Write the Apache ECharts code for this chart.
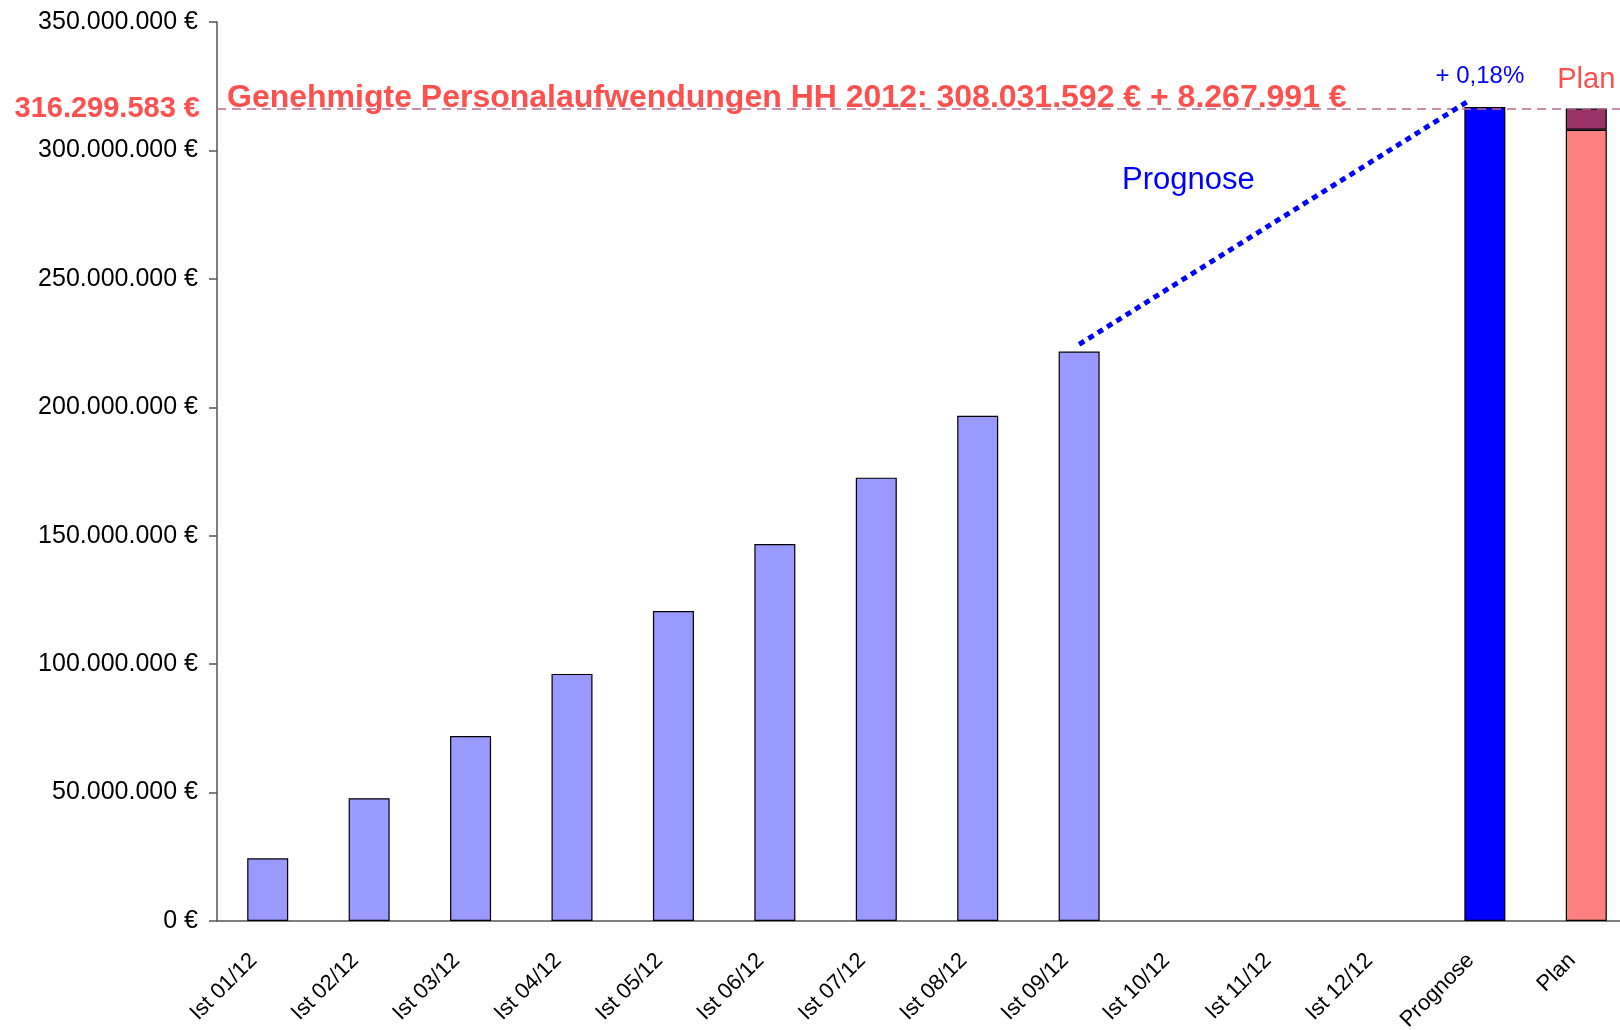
<!DOCTYPE html>
<html>
<head>
<meta charset="utf-8">
<title>Personalaufwendungen 2012</title>
<script src="https://cdn.jsdelivr.net/npm/echarts@6/dist/echarts.min.js"></script>
<style>
    html, body { margin: 0; padding: 0; background: #fff; }
    #main { width: 1620px; height: 1030px; }
</style>
</head>
<body>
<div id="main"></div>
<script>
// Kategorien der x-Achse
var categories = ['Ist 01/12', 'Ist 02/12', 'Ist 03/12', 'Ist 04/12', 'Ist 05/12', 'Ist 06/12',
    'Ist 07/12', 'Ist 08/12', 'Ist 09/12', 'Ist 10/12', 'Ist 11/12', 'Ist 12/12', 'Prognose', 'Plan'];

// kumulierte Ist-Werte (Jan - Sep)
var istValues = [24400000, 47800000, 72000000, 96200000, 120700000, 146800000, 172600000, 196700000, 221700000];

// Prognose / Plan
var prognoseValue = 316870000;
var planBase = 308031592;
var planExtra = 8267991;

// y-Achse
var yMin = 0, yMax = 350000000, yStep = 50000000;

// Verbindungslinie Ist 09/12 -> Prognose (x in Kategorie-Index)
var trendX = [8, 11.82];
var trendY = [224500000, 318800000];

var red = '#ff5050';

function fmt(v) {
    return String(Math.round(v)).replace(/\B(?=(\d{3})+(?!\d))/g, '.') + ' €';
}

var planTotal = planBase + planExtra;

function slot(idx, val) {
    var arr = categories.map(function(){ return '-'; });
    arr[idx] = val;
    return arr;
}

var istData = categories.map(function(c, i){ return i < istValues.length ? istValues[i] : '-'; });
var progIdx = categories.indexOf('Prognose');
var planIdx = categories.indexOf('Plan');

var chart = echarts.init(document.getElementById('main'));

chart.setOption({
    animation: false,
    textStyle: { fontFamily: 'Liberation Sans, Arial, sans-serif' },
    // rechter Rand liegt ausserhalb des Bildes (wie im Original abgeschnitten)
    grid: { left: 217, top: 22, right: -17, bottom: 109, containLabel: false, outerBoundsMode: 'none' },
    xAxis: [{
        type: 'category',
        data: categories,
        boundaryGap: true,
        axisLine: { lineStyle: { color: '#555', width: 1.5 } },
        axisTick: { length: 11, lineStyle: { color: '#555', width: 1.5 } },
        axisLabel: { rotate: 45, fontSize: 22, color: '#000', margin: 22, interval: 0, padding: [0, 20, 0, 0] }
    }, {
        // unsichtbare Wertachse für die Prognose-Linie
        type: 'value', min: -0.5, max: categories.length - 0.5, show: false
    }],
    yAxis: {
        type: 'value',
        min: yMin, max: yMax, interval: yStep,
        splitLine: { show: false },
        axisLine: { show: true, onZero: false, lineStyle: { color: '#555', width: 1.5 } },
        axisTick: { show: true, length: 8, lineStyle: { color: '#555', width: 1.5 } },
        axisLabel: { fontSize: 25, color: '#000', margin: 19, formatter: fmt }
    },
    series: [{
        name: 'Ist',
        type: 'bar',
        stack: 'all',
        barWidth: 41,
        data: istData,
        itemStyle: { color: '#9999ff', borderColor: '#000', borderWidth: 1.2 },
        markLine: {
            silent: true,
            symbol: 'none',
            data: [{
                yAxis: planTotal,
                lineStyle: { color: '#bb6a90', type: [9, 6], width: 1.5 },
                label: {
                    position: 'start', distance: 17, formatter: fmt(planTotal),
                    color: red, fontSize: 29, fontWeight: 'bold'
                }
            }, {
                yAxis: planTotal,
                lineStyle: { color: 'rgba(0,0,0,0)', width: 0 },
                label: {
                    position: 'insideStartTop', distance: [10, -6],
                    formatter: 'Genehmigte Personalaufwendungen HH 2012: ' + fmt(planBase) + ' + ' + fmt(planExtra),
                    color: red, fontSize: 32, fontWeight: 'bold'
                }
            }]
        }
    }, {
        name: 'Prognose',
        type: 'bar',
        stack: 'all',
        barWidth: 41,
        data: slot(progIdx, prognoseValue),
        itemStyle: { color: '#0000ff', borderColor: '#000', borderWidth: 1.2 },
        label: {
            show: true, position: 'top', distance: 19, offset: [-5, 0], color: '#0000ff', fontSize: 24,
            formatter: function(){
                return '+ ' + ((prognoseValue / planTotal - 1) * 100).toFixed(2).replace('.', ',') + '%';
            }
        }
    }, {
        name: 'Plan',
        type: 'bar',
        stack: 'all',
        barWidth: 41,
        data: slot(planIdx, planBase),
        itemStyle: { color: '#ff8080', borderColor: '#000', borderWidth: 1.2 }
    }, {
        name: 'Plan Zusatz',
        type: 'bar',
        stack: 'all',
        barWidth: 41,
        data: slot(planIdx, planExtra),
        itemStyle: { color: '#993366', borderColor: '#000', borderWidth: 1.2 },
        label: { show: true, position: 'top', distance: 14, color: red, fontSize: 29, formatter: 'Plan' }
    }, {
        name: 'Trend',
        type: 'line',
        xAxisIndex: 1,
        symbol: 'none',
        data: trendX.map(function(x, i){ return [x, trendY[i]]; }),
        lineStyle: { color: '#0000ff', width: 5, type: [6, 5], cap: 'butt' },
        z: 5
    }],
    graphic: [{
        type: 'text',
        left: 1122, top: 165,
        style: { text: 'Prognose', fill: '#0000ff', fontSize: 31, fontFamily: 'Liberation Sans, Arial, sans-serif' }
    }]
});
</script>
</body>
</html>
